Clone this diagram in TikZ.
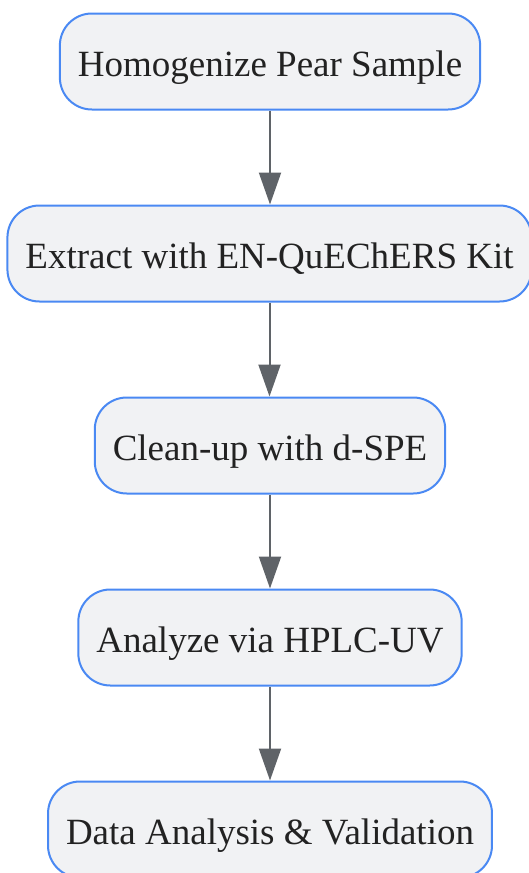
\documentclass[tikz,border=0pt]{standalone}
\usepackage{fontspec}
\setmainfont{Liberation Serif}
\usetikzlibrary{arrows.meta}
\definecolor{boxblue}{RGB}{74,137,243}
\definecolor{boxfill}{RGB}{241,242,244}
\definecolor{arrowgray}{RGB}{95,99,104}
\definecolor{textgray}{RGB}{34,34,34}
\begin{document}
\begin{tikzpicture}[x=1pt, y=-1pt,
    stepnode/.style={rectangle, rounded corners=32pt, draw=boxblue, line width=2pt, fill=boxfill,
      minimum height=96pt, inner xsep=18pt, text height=37pt, text depth=8pt,
      text=textgray, font=\fontsize{37}{44}\selectfont}]
      \useasboundingbox (0,0) rectangle (529,873);
      \node[stepnode] (1) at (270, 61.5) {Homogenize Pear Sample};
      \node[stepnode] (2) at (269.5, 253.5) {Extract with EN-QuEChERS Kit};
      \node[stepnode] (3) at (270, 445.5) {Clean-up with d-SPE};
      \node[stepnode] (4) at (270, 637.5) {Analyze via HPLC-UV};
      \node[stepnode] (5) at (270, 829.5) {Data Analysis \& Validation};

      \foreach \source/\dest in {1/2, 2/3, 3/4, 4/5}
        \path (\source.south) edge[arrowgray, -{Triangle[length=32pt, width=22pt]}, line width=2pt] (\source.south |- \dest.north);
    \end{tikzpicture}
\end{document}
